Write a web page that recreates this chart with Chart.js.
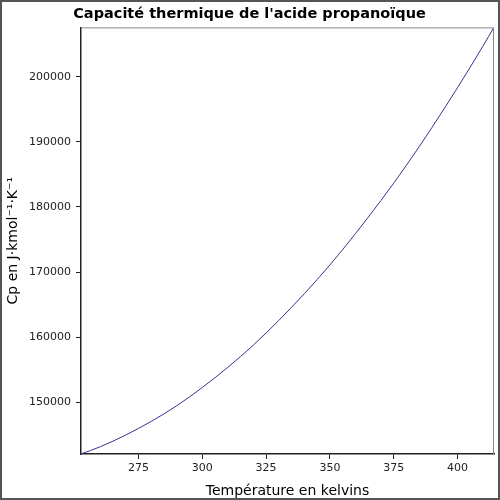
<!DOCTYPE html>
<html>
<head>
<meta charset="utf-8">
<script src="https://cdn.jsdelivr.net/npm/chart.js@4"></script>
<style>
  html, body { margin: 0; padding: 0; background: #fff; }
  #wrap { width: 500px; height: 500px; }
</style>
</head>
<body>
<div id="wrap"><canvas id="cpChart" width="500" height="500"></canvas></div>
<script>
// Capacité thermique de l'acide propanoïque
const temperatures = [252.45, 260, 270, 280, 290, 300, 310, 320, 330, 340, 350, 360, 370, 380, 390, 400, 410, 414.32];
const cpValues = [142100, 143200, 145000, 147100, 149500, 152300, 155400, 158800, 162600, 166700, 171100, 175900, 181000, 186400, 192200, 198300, 204700, 207600];
const xTicks = [275, 300, 325, 350, 375, 400];
const yTicks = [150000, 160000, 170000, 180000, 190000, 200000];

const font = "'DejaVu Sans', sans-serif";

// cadre gris autour de l'image + cadre de la zone de tracé
const framePlugin = {
  id: "frames",
  beforeDraw(chart) {
    const ctx = chart.ctx;
    ctx.save();
    ctx.fillStyle = "#ffffff";
    ctx.fillRect(0, 0, chart.width, chart.height);
    ctx.restore();
  },
  afterDraw(chart) {
    const ctx = chart.ctx;
    const a = chart.chartArea;
    ctx.save();
    ctx.lineWidth = 1;
    ctx.strokeStyle = "#888888";
    ctx.beginPath();
    ctx.moveTo(a.left, a.top + 0.5);
    ctx.lineTo(a.right - 0.5, a.top + 0.5);
    ctx.lineTo(a.right - 0.5, a.bottom);
    ctx.stroke();
    ctx.strokeStyle = "#555555";
    ctx.lineWidth = 2;
    ctx.strokeRect(1, 1, chart.width - 2, chart.height - 2);
    ctx.restore();
  },
};

new Chart(document.getElementById("cpChart"), {
  type: "line",
  data: {
    datasets: [
      {
        data: temperatures.map((t, i) => ({ x: t, y: cpValues[i] })),
        borderColor: "#353590",
        borderWidth: 1,
        pointRadius: 0,
        fill: false,
        cubicInterpolationMode: "monotone",
      },
    ],
  },
  options: {
    responsive: false,
    animation: false,
    layout: { padding: { left: 5, right: 6, top: 0, bottom: 0 } },
    plugins: {
      legend: { display: false },
      tooltip: { enabled: false },
      title: {
        display: true,
        text: "Capacité thermique de l'acide propanoïque",
        color: "#000",
        font: { family: font, size: 14.5, weight: "bold" },
        padding: { top: 6, bottom: 4 },
      },
    },
    scales: {
      x: {
        type: "linear",
        min: 252.45,
        max: 414.32,
        afterBuildTicks: (s) => { s.ticks = xTicks.map((v) => ({ value: v })); },
        afterFit: (s) => { s.height = 46; },
        ticks: {
          color: "#222",
          font: { family: font, size: 11 },
          padding: 3,
          callback: (v) => String(v),
        },
        grid: { drawOnChartArea: false, tickLength: 5, color: "#222" },
        border: { color: "#222", width: 1.5 },
        title: {
          display: true,
          text: "Température en kelvins",
          color: "#000",
          font: { family: font, size: 14 },
          padding: { top: 2, bottom: 0 },
        },
      },
      y: {
        min: 142088,
        max: 207564,
        afterBuildTicks: (s) => { s.ticks = yTicks.map((v) => ({ value: v })); },
        afterFit: (s) => { s.width = 76; },
        ticks: {
          color: "#222",
          font: { family: font, size: 11 },
          padding: 5,
          callback: (v) => String(v),
        },
        grid: { drawOnChartArea: false, tickLength: 5, color: "#222" },
        border: { color: "#222", width: 1.5 },
        title: {
          display: true,
          text: "Cp en J·kmol⁻¹·K⁻¹",
          color: "#000",
          font: { family: font, size: 14 },
          padding: { top: 0, bottom: 2 },
        },
      },
    },
  },
  plugins: [framePlugin],
});
</script>
</body>
</html>
